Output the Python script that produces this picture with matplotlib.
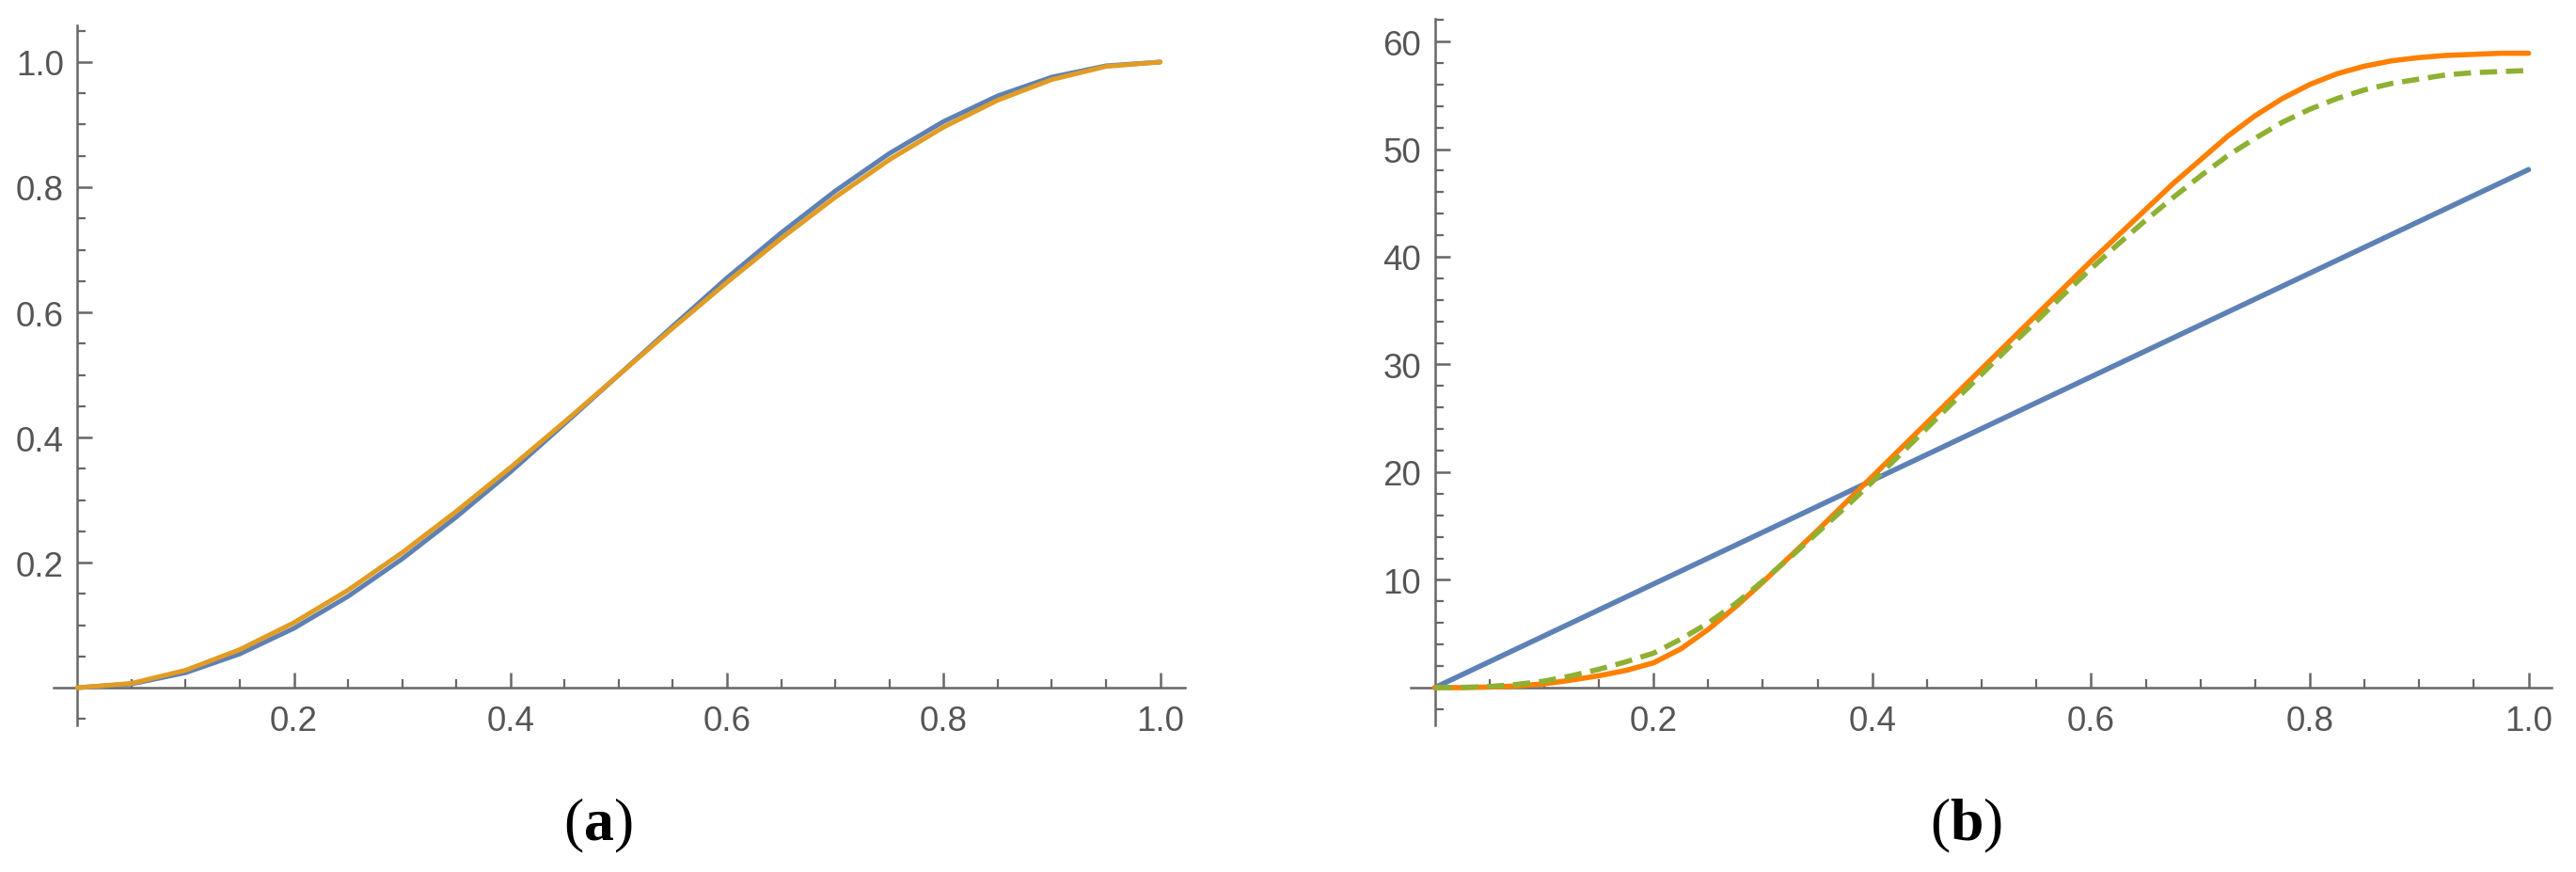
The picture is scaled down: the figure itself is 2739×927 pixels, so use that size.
import matplotlib
matplotlib.use("Agg")
import matplotlib.pyplot as plt
from matplotlib.ticker import FixedLocator, FixedFormatter

plt.rcParams['font.family'] = ['Liberation Sans', 'DejaVu Sans']
plt.rcParams['mathtext.fontset'] = 'custom'
plt.rcParams['mathtext.rm'] = 'Liberation Serif'
plt.rcParams['mathtext.bf'] = 'Liberation Serif:bold'

# ---------------- data ----------------
# panel (a)
a_x = [0.00, 0.05, 0.10, 0.15, 0.20, 0.25, 0.30, 0.35, 0.40, 0.45, 0.50,
       0.55, 0.60, 0.65, 0.70, 0.75, 0.80, 0.85, 0.90, 0.95, 1.00]
a_blue = [0.000, 0.006, 0.024, 0.054, 0.095, 0.146, 0.206, 0.273, 0.345, 0.422, 0.500,
          0.578, 0.655, 0.727, 0.794, 0.854, 0.905, 0.946, 0.976, 0.994, 1.000]
a_orange = [0.000, 0.007, 0.028, 0.061, 0.104, 0.156, 0.216, 0.282, 0.352, 0.425, 0.500,
            0.575, 0.648, 0.718, 0.784, 0.844, 0.896, 0.939, 0.972, 0.993, 1.000]

# panel (b)
b_x = [0.000, 0.025, 0.050, 0.075, 0.100, 0.125, 0.150, 0.175, 0.200, 0.225,
       0.250, 0.275, 0.300, 0.325, 0.350, 0.375, 0.400, 0.425, 0.450, 0.475,
       0.500, 0.525, 0.550, 0.575, 0.600, 0.625, 0.650, 0.675, 0.700, 0.725,
       0.750, 0.775, 0.800, 0.825, 0.850, 0.875, 0.900, 0.925, 0.950, 0.975, 1.000]
b_orange = [0.0, 0.0, 0.05, 0.15, 0.35, 0.7, 1.1, 1.6, 2.3, 3.6,
            5.4, 7.5, 9.8, 12.2, 14.6, 17.1, 19.6, 22.1, 24.6, 27.1,
            29.6, 32.1, 34.6, 37.1, 39.6, 42.0, 44.4, 46.8, 49.0, 51.2,
            53.1, 54.7, 56.0, 57.0, 57.7, 58.2, 58.5, 58.7, 58.8, 58.9, 58.9]
b_green = [0.0, 0.02, 0.1, 0.3, 0.6, 1.1, 1.7, 2.4, 3.2, 4.5,
           6.0, 7.8, 9.9, 12.1, 14.4, 16.7, 19.1, 21.6, 24.1, 26.6,
           29.1, 31.6, 34.0, 36.5, 38.9, 41.2, 43.4, 45.5, 47.5, 49.4,
           51.0, 52.5, 53.7, 54.7, 55.5, 56.1, 56.5, 56.9, 57.1, 57.2, 57.3]
b_blue_x = [0.0, 1.0]
b_blue = [0.0, 48.1]

a_xticks = [0.2, 0.4, 0.6, 0.8, 1.0]
a_xticklabels = ["0.2", "0.4", "0.6", "0.8", "1.0"]
a_yticks = [0.2, 0.4, 0.6, 0.8, 1.0]
a_yticklabels = ["0.2", "0.4", "0.6", "0.8", "1.0"]
b_xticks = [0.2, 0.4, 0.6, 0.8, 1.0]
b_xticklabels = ["0.2", "0.4", "0.6", "0.8", "1.0"]
b_yticks = [10, 20, 30, 40, 50, 60]
b_yticklabels = ["10", "20", "30", "40", "50", "60"]
captions = ["a", "b"]

# ---------------- styling ----------------
BLUE = '#5E81B5'
ORANGE_A = '#E19C24'
ORANGE_B = '#FF8000'
GREEN = '#8FB032'
AXC = '#676767'
LBLC = '#555555'

W, H = 2739, 928
fig = plt.figure(figsize=(W / 100, H / 100), dpi=100)


def frac_box(x0, x1, ytop, ybot):
    return [x0 / W, 1 - ybot / H, (x1 - x0) / W, (ybot - ytop) / H]


ax1 = fig.add_axes(frac_box(57, 1260, 28, 772))
ax2 = fig.add_axes(frac_box(1500, 2713, 21.2, 771.7))


def style_axes(ax, xmaj, xlab, ymaj, ylab, xmin, ymin):
    for s in ['top', 'right']:
        ax.spines[s].set_visible(False)
    for s in ['left', 'bottom']:
        ax.spines[s].set_position(('data', 0))
        ax.spines[s].set_color(AXC)
        ax.spines[s].set_linewidth(1.8)
    ax.xaxis.set_major_locator(FixedLocator(xmaj))
    ax.xaxis.set_major_formatter(FixedFormatter(xlab))
    ax.yaxis.set_major_locator(FixedLocator(ymaj))
    ax.yaxis.set_major_formatter(FixedFormatter(ylab))
    ax.xaxis.set_minor_locator(FixedLocator(xmin))
    ax.yaxis.set_minor_locator(FixedLocator(ymin))
    ax.tick_params(which='major', direction='in', length=11.3, width=1.8,
                   color=AXC, labelcolor=LBLC, labelsize=26.5)
    ax.tick_params(which='minor', direction='in', length=6.5, width=1.6, color=AXC)
    ax.tick_params(axis='x', which='major', pad=13)
    ax.tick_params(axis='y', which='major', pad=10.5)
    ax.patch.set_alpha(0)


x_minor = [k * 0.05 for k in range(1, 21) if k % 4 != 0]
a_y_minor = [k * 0.05 for k in range(-1, 22) if k % 4 != 0 and k != 0]
b_y_minor = [k * 2 for k in range(-1, 32) if k % 5 != 0]

style_axes(ax1, a_xticks, a_xticklabels, a_yticks, a_yticklabels, x_minor, a_y_minor)
style_axes(ax2, b_xticks, b_xticklabels, b_yticks, b_yticklabels, x_minor, b_y_minor)

ax1.set_xlim(-0.022, 1.023)
ax1.set_ylim(-0.060, 1.0586)
ax2.set_xlim(-0.022, 1.021)
ax2.set_ylim(-3.47, 62.08)

ax1.plot(a_x, a_blue, color=BLUE, lw=3.6, zorder=3, solid_capstyle='round',
         solid_joinstyle='round')
ax1.plot(a_x, a_orange, color=ORANGE_A, lw=3.6, zorder=4, solid_capstyle='round',
         solid_joinstyle='round')

ax2.plot(b_blue_x, b_blue, color=BLUE, lw=4.0, zorder=3, solid_capstyle='round')
ax2.plot(b_x, b_orange, color=ORANGE_B, lw=4.0, zorder=4, solid_capstyle='round',
         solid_joinstyle='round')
ax2.plot(b_x, b_green, color=GREEN, lw=4.0, zorder=5, dashes=(3.3, 1.7))

# captions
fig.text(636 / W, 1 - 893 / H, r'$(\mathbf{%s})$' % captions[0], fontsize=46,
         ha='center', va='baseline', color='black')
fig.text(2091 / W, 1 - 893 / H, r'$(\mathbf{%s})$' % captions[1], fontsize=46,
         ha='center', va='baseline', color='black')

fig.savefig('out.png', dpi=100)
